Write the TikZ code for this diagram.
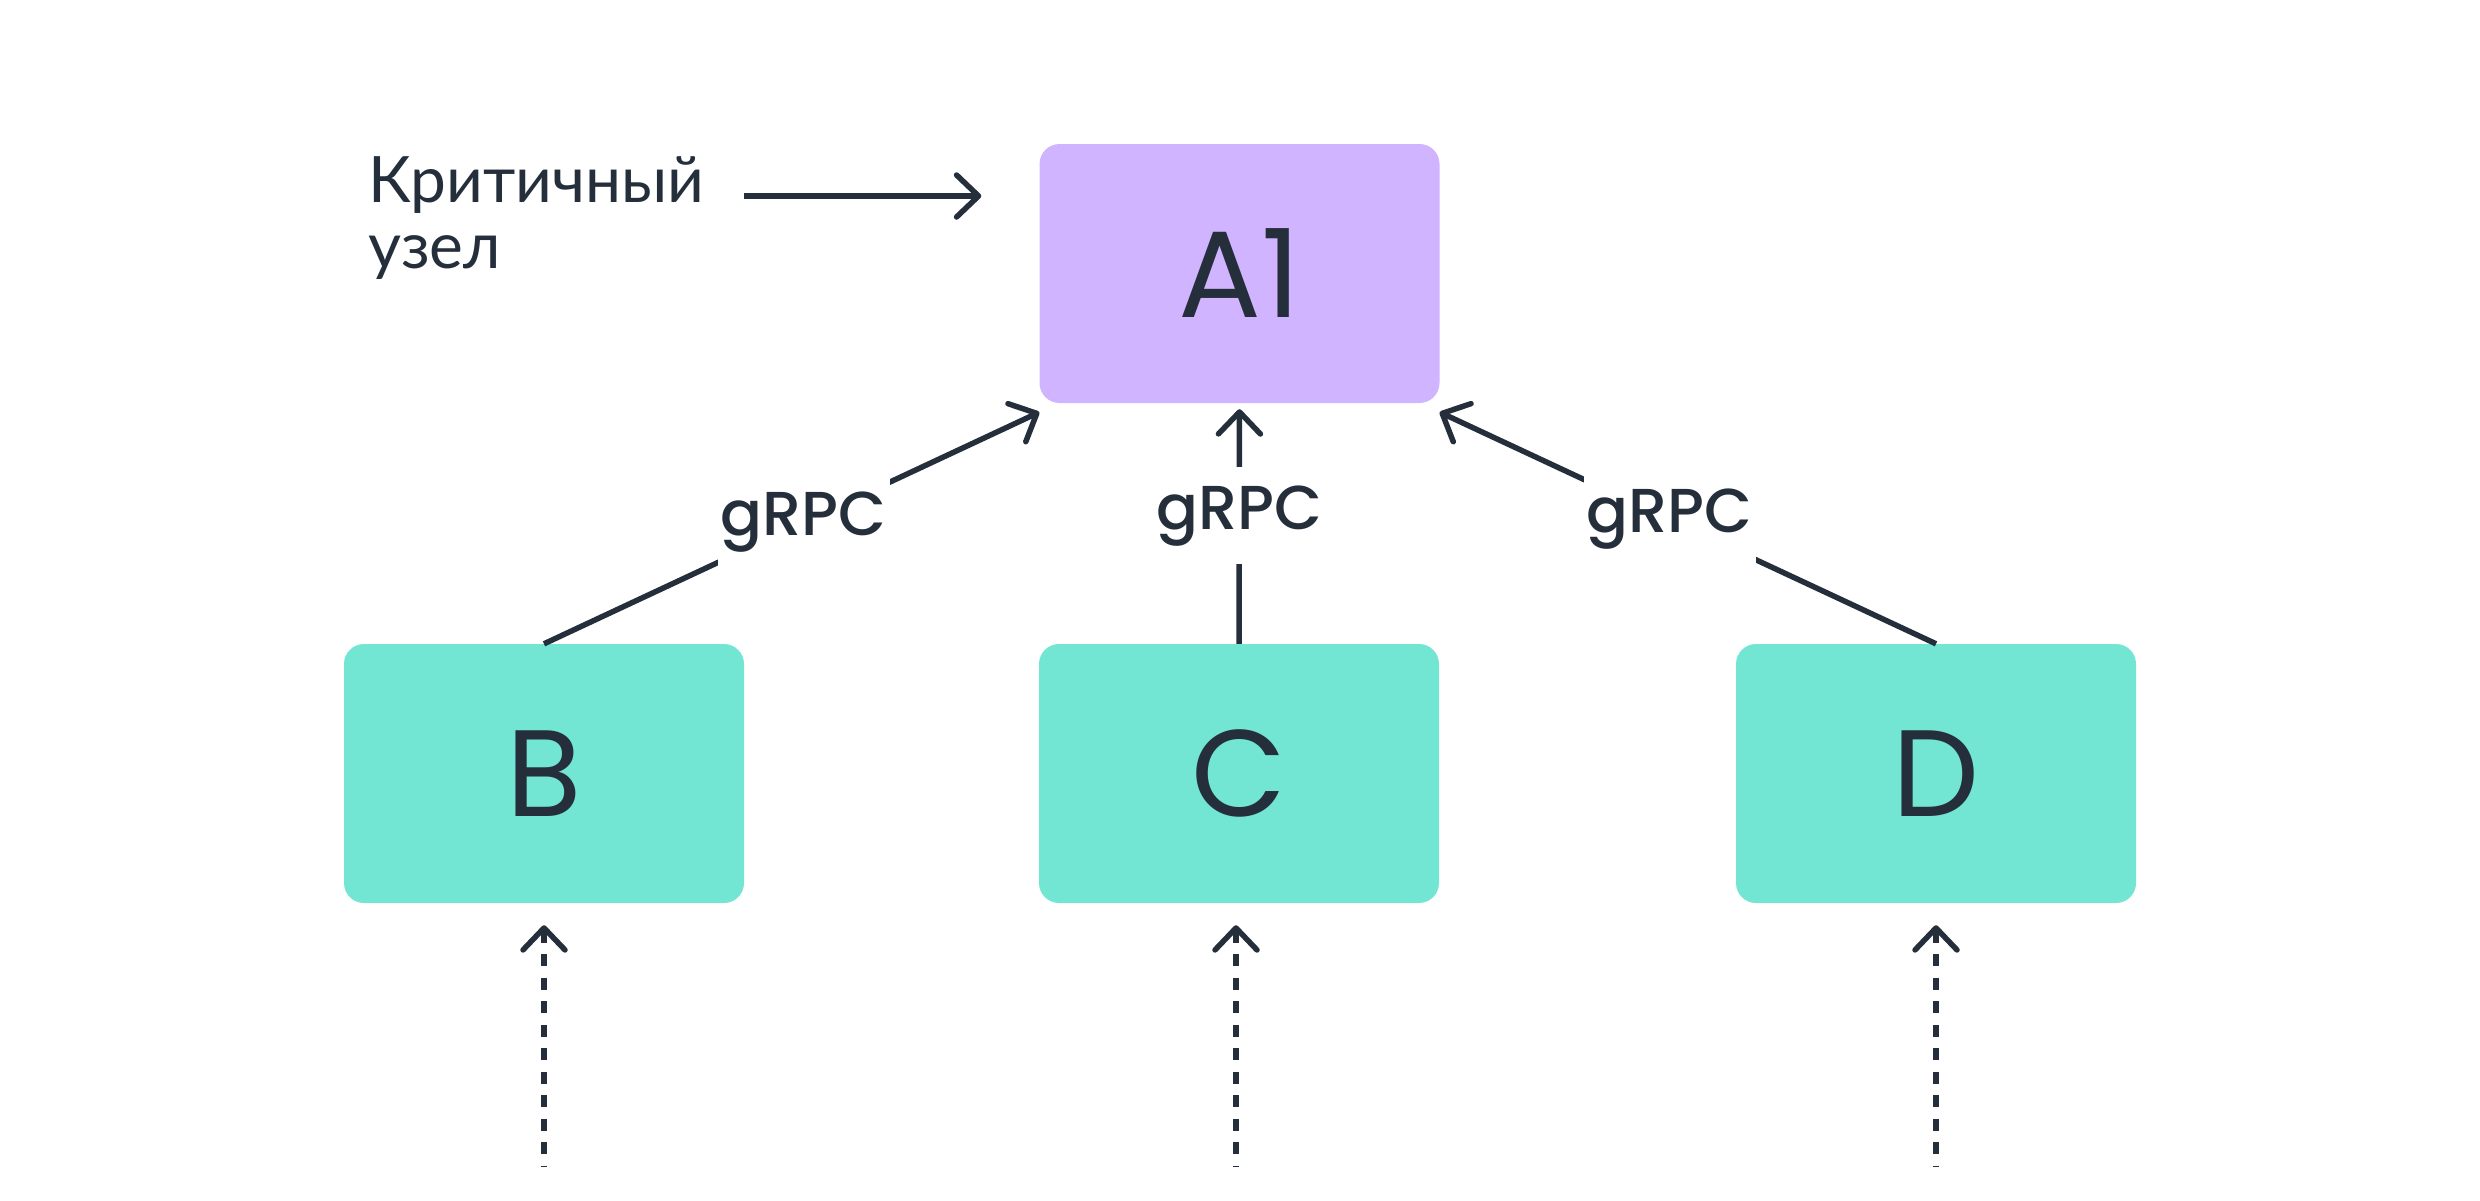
\documentclass[tikz,border=0pt]{standalone}
\usepackage{fontspec}
\setmainfont{Poppins}
\newfontfamily\medfont{Poppins Medium}
\newfontfamily\cyrfont{Lato}
\usetikzlibrary{arrows.meta,calc}
\definecolor{ink}{HTML}{252F3B}
\definecolor{lav}{HTML}{D1B4FF}
\definecolor{mint}{HTML}{72E5D3}
\begin{document}
\begin{tikzpicture}[x=1pt,y=-1pt,
  box/.style={rectangle, rounded corners=20pt, minimum width=400pt, minimum height=259pt, inner sep=0pt, text=ink, font=\fontsize{123}{123}\selectfont},
  conn/.style={draw=ink, line width=5.5pt, -{Straight Barb[length=22pt,width=42pt,round]}},
  dconn/.style={draw=ink, line width=5.5pt, dash pattern=on 12pt off 11.5pt, {Straight Barb[length=22pt,width=42pt,round]}-},
  lab/.style={fill=white, text=ink, font=\medfont\fontsize{62}{62}\selectfont, minimum width=172pt, minimum height=97pt, inner sep=0pt}
]
\useasboundingbox (0,0) rectangle (2480,1200);
\node[box, fill=lav] (A1) at (1239.5,273.5) {A1};
\node[box, fill=mint] (B) at (544,773.5) {B};
\node[box, fill=mint] (C) at (1239,773.5) {C};
\node[box, fill=mint] (D) at (1936,773.5) {D};

\draw[conn] (B.north) -- ($(A1.south west)+(0,9)$) node[lab, pos=0.524] {gRPC};
\draw[conn] (C.north) -- ($(A1.south)+(0,6)$) node[lab, pos=0.545] {gRPC};
\draw[conn] (D.north) -- ($(A1.south east)+(0,9)$) node[lab, pos=0.537] {gRPC};

\node[anchor=base west, align=left, text=ink, font=\cyrfont\fontsize{64}{66}\selectfont, inner sep=0pt] (crit) at (368,268) {Критичный\\узел};
\coordinate (cs) at (744,196);
\draw[conn, shorten >=58pt] (cs) -- (cs -| A1.west);

\coordinate (bb) at (544,1166);
\coordinate (cb) at (1236,1166);
\coordinate (db) at (1936,1166);
\draw[dconn, shorten <=22pt] (B.south) -- (bb);
\draw[dconn, shorten <=22pt] (cb |- C.south) -- (cb);
\draw[dconn, shorten <=22pt] (D.south) -- (db);
\end{tikzpicture}
\end{document}
